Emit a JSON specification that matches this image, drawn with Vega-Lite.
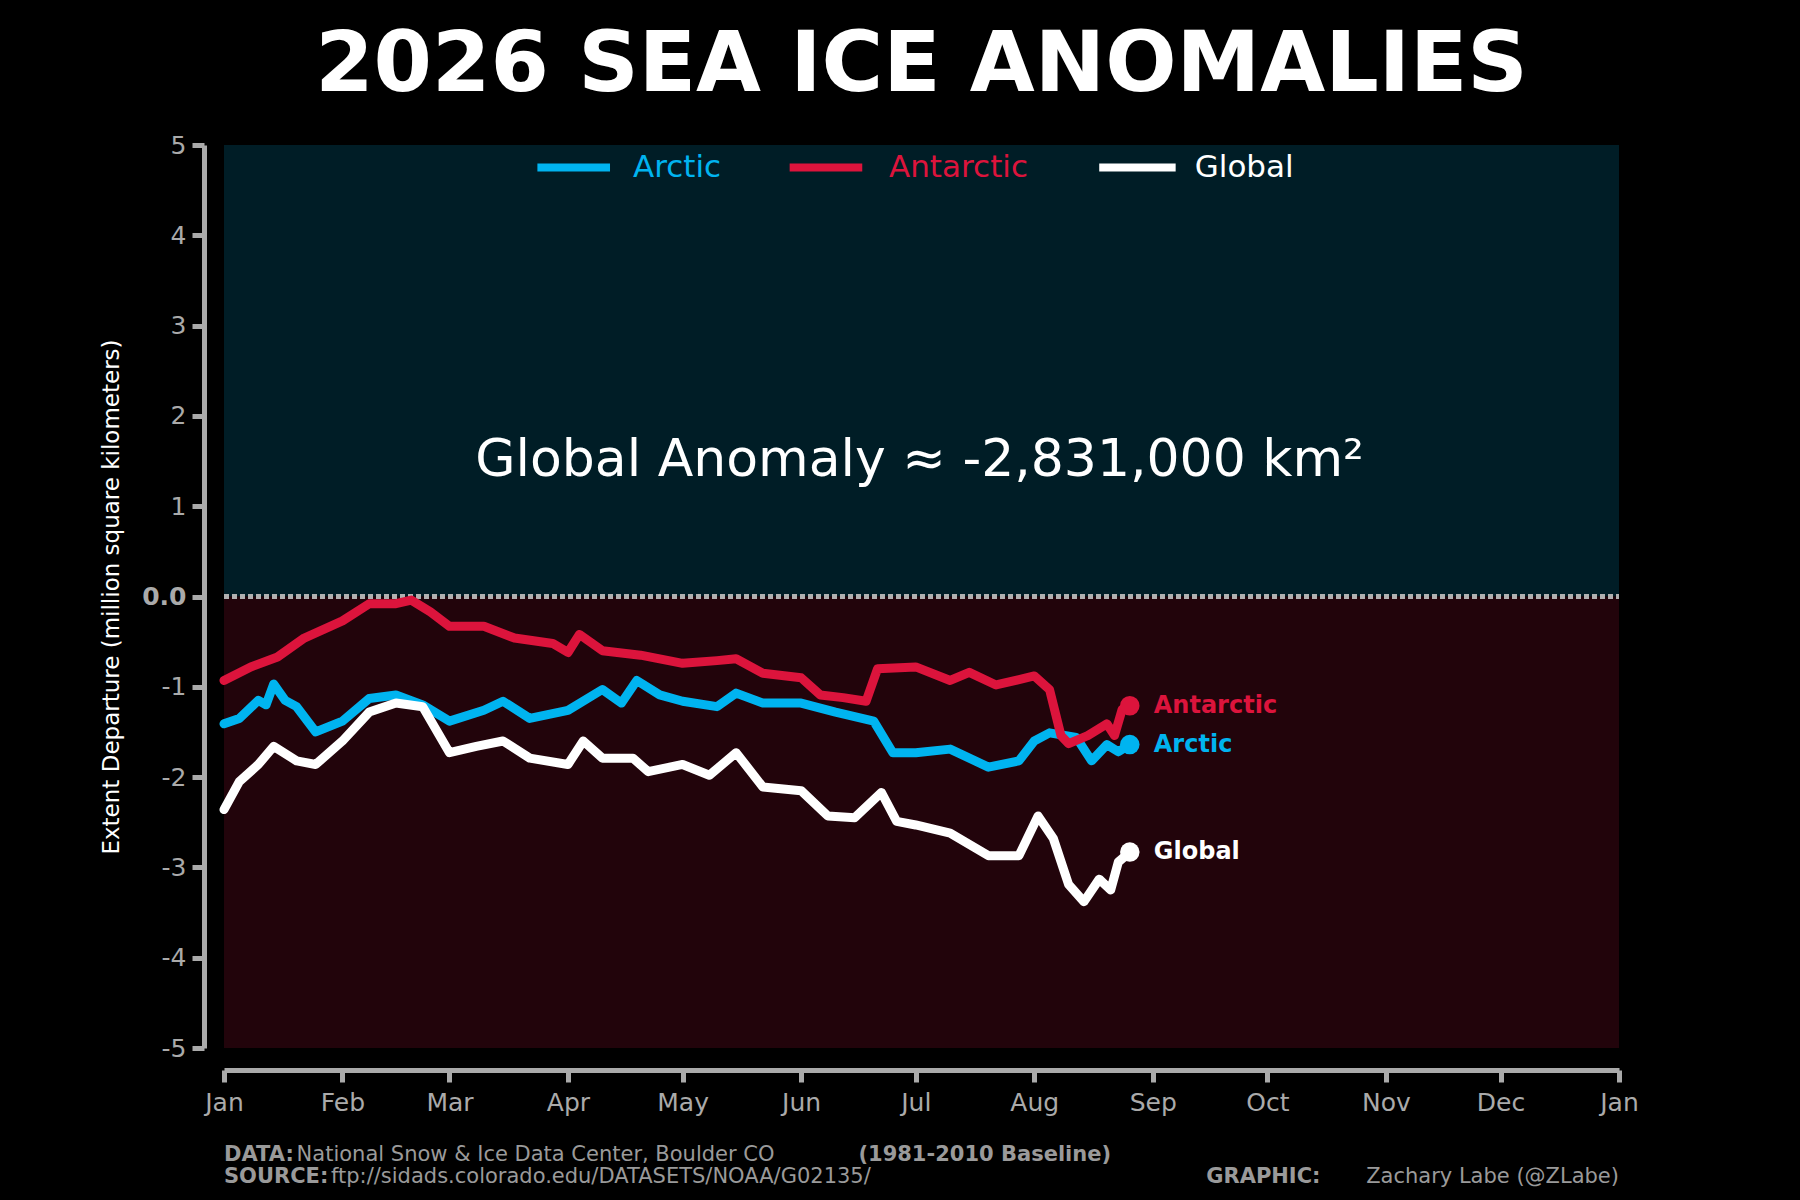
{
  "$schema": "https://vega.github.io/schema/vega-lite/v6.json",
  "background": "#000000",
  "width": 1395,
  "height": 903,
  "autosize": "none",
  "padding": {"left": 224, "top": 145, "right": 181, "bottom": 152},
  "title": {
    "text": "2026 SEA ICE ANOMALIES",
    "color": "white",
    "font": "DejaVu Sans",
    "fontWeight": "bold",
    "fontSize": 84,
    "offset": 24
  },
  "config": {
    "view": {"stroke": null},
    "font": "DejaVu Sans",
    "text": {"font": "DejaVu Sans"}
  },
  "datasets": {
    "bg": [
      {"date": "2026-01-01", "date2": "2027-01-01", "v": 0, "v2": 5, "c": "#001d26"},
      {"date": "2026-01-01", "date2": "2027-01-01", "v": -5, "v2": 0, "c": "#22040b"}
    ],
    "zero": [{"date": "2026-01-01", "date2": "2027-01-01", "v": 0}],
    "series": [
      {"s": "Arctic", "date": "2026-01-01", "v": -1.41},
      {"s": "Arctic", "date": "2026-01-05", "v": -1.35},
      {"s": "Arctic", "date": "2026-01-10", "v": -1.15},
      {"s": "Arctic", "date": "2026-01-12", "v": -1.2},
      {"s": "Arctic", "date": "2026-01-14", "v": -0.97},
      {"s": "Arctic", "date": "2026-01-17", "v": -1.15},
      {"s": "Arctic", "date": "2026-01-20", "v": -1.22},
      {"s": "Arctic", "date": "2026-01-25", "v": -1.5},
      {"s": "Arctic", "date": "2026-02-01", "v": -1.38},
      {"s": "Arctic", "date": "2026-02-08", "v": -1.13},
      {"s": "Arctic", "date": "2026-02-15", "v": -1.09},
      {"s": "Arctic", "date": "2026-02-22", "v": -1.2},
      {"s": "Arctic", "date": "2026-03-01", "v": -1.38},
      {"s": "Arctic", "date": "2026-03-10", "v": -1.26},
      {"s": "Arctic", "date": "2026-03-15", "v": -1.16},
      {"s": "Arctic", "date": "2026-03-22", "v": -1.35},
      {"s": "Arctic", "date": "2026-04-01", "v": -1.26},
      {"s": "Arctic", "date": "2026-04-10", "v": -1.03},
      {"s": "Arctic", "date": "2026-04-15", "v": -1.18},
      {"s": "Arctic", "date": "2026-04-19", "v": -0.93},
      {"s": "Arctic", "date": "2026-04-25", "v": -1.09},
      {"s": "Arctic", "date": "2026-05-01", "v": -1.16},
      {"s": "Arctic", "date": "2026-05-10", "v": -1.22},
      {"s": "Arctic", "date": "2026-05-15", "v": -1.07},
      {"s": "Arctic", "date": "2026-05-22", "v": -1.18},
      {"s": "Arctic", "date": "2026-06-01", "v": -1.18},
      {"s": "Arctic", "date": "2026-06-10", "v": -1.28},
      {"s": "Arctic", "date": "2026-06-20", "v": -1.38},
      {"s": "Arctic", "date": "2026-06-25", "v": -1.73},
      {"s": "Arctic", "date": "2026-07-01", "v": -1.73},
      {"s": "Arctic", "date": "2026-07-10", "v": -1.69},
      {"s": "Arctic", "date": "2026-07-20", "v": -1.89},
      {"s": "Arctic", "date": "2026-07-28", "v": -1.82},
      {"s": "Arctic", "date": "2026-08-01", "v": -1.6},
      {"s": "Arctic", "date": "2026-08-05", "v": -1.51},
      {"s": "Arctic", "date": "2026-08-12", "v": -1.56},
      {"s": "Arctic", "date": "2026-08-16", "v": -1.82},
      {"s": "Arctic", "date": "2026-08-20", "v": -1.64},
      {"s": "Arctic", "date": "2026-08-23", "v": -1.72},
      {"s": "Arctic", "date": "2026-08-26", "v": -1.64},
      {"s": "Antarctic", "date": "2026-01-01", "v": -0.93},
      {"s": "Antarctic", "date": "2026-01-08", "v": -0.78},
      {"s": "Antarctic", "date": "2026-01-15", "v": -0.67},
      {"s": "Antarctic", "date": "2026-01-22", "v": -0.46},
      {"s": "Antarctic", "date": "2026-02-01", "v": -0.27},
      {"s": "Antarctic", "date": "2026-02-08", "v": -0.08},
      {"s": "Antarctic", "date": "2026-02-15", "v": -0.08},
      {"s": "Antarctic", "date": "2026-02-19", "v": -0.04},
      {"s": "Antarctic", "date": "2026-02-24", "v": -0.17},
      {"s": "Antarctic", "date": "2026-03-01", "v": -0.33},
      {"s": "Antarctic", "date": "2026-03-10", "v": -0.33},
      {"s": "Antarctic", "date": "2026-03-18", "v": -0.46},
      {"s": "Antarctic", "date": "2026-03-28", "v": -0.52},
      {"s": "Antarctic", "date": "2026-04-01", "v": -0.62},
      {"s": "Antarctic", "date": "2026-04-04", "v": -0.42},
      {"s": "Antarctic", "date": "2026-04-10", "v": -0.6},
      {"s": "Antarctic", "date": "2026-04-20", "v": -0.65},
      {"s": "Antarctic", "date": "2026-05-01", "v": -0.74},
      {"s": "Antarctic", "date": "2026-05-10", "v": -0.71},
      {"s": "Antarctic", "date": "2026-05-15", "v": -0.69},
      {"s": "Antarctic", "date": "2026-05-22", "v": -0.85},
      {"s": "Antarctic", "date": "2026-06-01", "v": -0.9},
      {"s": "Antarctic", "date": "2026-06-06", "v": -1.09},
      {"s": "Antarctic", "date": "2026-06-12", "v": -1.12},
      {"s": "Antarctic", "date": "2026-06-18", "v": -1.16},
      {"s": "Antarctic", "date": "2026-06-21", "v": -0.8},
      {"s": "Antarctic", "date": "2026-07-01", "v": -0.78},
      {"s": "Antarctic", "date": "2026-07-10", "v": -0.93},
      {"s": "Antarctic", "date": "2026-07-15", "v": -0.84},
      {"s": "Antarctic", "date": "2026-07-22", "v": -0.98},
      {"s": "Antarctic", "date": "2026-08-01", "v": -0.88},
      {"s": "Antarctic", "date": "2026-08-05", "v": -1.03},
      {"s": "Antarctic", "date": "2026-08-08", "v": -1.54},
      {"s": "Antarctic", "date": "2026-08-10", "v": -1.63},
      {"s": "Antarctic", "date": "2026-08-15", "v": -1.54},
      {"s": "Antarctic", "date": "2026-08-20", "v": -1.41},
      {"s": "Antarctic", "date": "2026-08-22", "v": -1.54},
      {"s": "Antarctic", "date": "2026-08-24", "v": -1.25},
      {"s": "Antarctic", "date": "2026-08-26", "v": -1.21},
      {"s": "Global", "date": "2026-01-01", "v": -2.36},
      {"s": "Global", "date": "2026-01-05", "v": -2.05},
      {"s": "Global", "date": "2026-01-10", "v": -1.86},
      {"s": "Global", "date": "2026-01-14", "v": -1.66},
      {"s": "Global", "date": "2026-01-20", "v": -1.82},
      {"s": "Global", "date": "2026-01-25", "v": -1.86},
      {"s": "Global", "date": "2026-02-01", "v": -1.6},
      {"s": "Global", "date": "2026-02-08", "v": -1.28},
      {"s": "Global", "date": "2026-02-15", "v": -1.18},
      {"s": "Global", "date": "2026-02-22", "v": -1.22},
      {"s": "Global", "date": "2026-03-01", "v": -1.73},
      {"s": "Global", "date": "2026-03-08", "v": -1.66},
      {"s": "Global", "date": "2026-03-15", "v": -1.6},
      {"s": "Global", "date": "2026-03-22", "v": -1.79},
      {"s": "Global", "date": "2026-04-01", "v": -1.86},
      {"s": "Global", "date": "2026-04-05", "v": -1.6},
      {"s": "Global", "date": "2026-04-10", "v": -1.79},
      {"s": "Global", "date": "2026-04-18", "v": -1.79},
      {"s": "Global", "date": "2026-04-22", "v": -1.94},
      {"s": "Global", "date": "2026-05-01", "v": -1.86},
      {"s": "Global", "date": "2026-05-08", "v": -1.98},
      {"s": "Global", "date": "2026-05-15", "v": -1.73},
      {"s": "Global", "date": "2026-05-22", "v": -2.11},
      {"s": "Global", "date": "2026-06-01", "v": -2.15},
      {"s": "Global", "date": "2026-06-08", "v": -2.43},
      {"s": "Global", "date": "2026-06-15", "v": -2.45},
      {"s": "Global", "date": "2026-06-22", "v": -2.17},
      {"s": "Global", "date": "2026-06-26", "v": -2.49},
      {"s": "Global", "date": "2026-07-01", "v": -2.53},
      {"s": "Global", "date": "2026-07-10", "v": -2.62},
      {"s": "Global", "date": "2026-07-20", "v": -2.87},
      {"s": "Global", "date": "2026-07-28", "v": -2.87},
      {"s": "Global", "date": "2026-08-02", "v": -2.43},
      {"s": "Global", "date": "2026-08-06", "v": -2.68},
      {"s": "Global", "date": "2026-08-10", "v": -3.19},
      {"s": "Global", "date": "2026-08-14", "v": -3.38},
      {"s": "Global", "date": "2026-08-18", "v": -3.13},
      {"s": "Global", "date": "2026-08-21", "v": -3.25},
      {"s": "Global", "date": "2026-08-23", "v": -2.94},
      {"s": "Global", "date": "2026-08-26", "v": -2.83}
    ],
    "ends": [
      {"s": "Arctic", "date": "2026-08-26", "v": -1.64},
      {"s": "Antarctic", "date": "2026-08-26", "v": -1.21},
      {"s": "Global", "date": "2026-08-26", "v": -2.83}
    ],
    "legend": [
      {"s": "Arctic", "date": "2026-03-24", "date2": "2026-04-12", "tdate": "2026-04-18", "v": 4.75},
      {"s": "Antarctic", "date": "2026-05-29", "date2": "2026-06-17", "tdate": "2026-06-24", "v": 4.75},
      {"s": "Global", "date": "2026-08-18", "date2": "2026-09-07", "tdate": "2026-09-12", "v": 4.75}
    ],
    "anno": [{"date": "2026-07-02", "v": 1.51, "t": "Global Anomaly ≈ -2,831,000 km²"}],
    "footbold": [
      {"date": "2026-01-01", "v": -6.18, "t": "DATA:"},
      {"date": "2026-01-01", "v": -6.43, "t": "SOURCE:"}
    ],
    "footnorm": [
      {"date": "2026-01-20", "v": -6.18, "t": "National Snow & Ice Data Center, Boulder CO"},
      {"date": "2026-01-29", "v": -6.43, "t": "ftp://sidads.colorado.edu/DATASETS/NOAA/G02135/"}
    ],
    "footbold2": [
      {"date": "2026-06-16", "v": -6.18, "t": "(1981-2010 Baseline)"},
      {"date": "2026-09-15", "v": -6.43, "t": "GRAPHIC:"}
    ],
    "footright": [
      {"date": "2027-01-01", "v": -6.43, "t": "Zachary Labe (@ZLabe)"}
    ]
  },
  "encoding": {
    "x": {
      "field": "date",
      "type": "temporal",
      "scale": {"type": "utc", "domain": ["2026-01-01", "2027-01-01"]},
      "axis": {
        "title": null,
        "labelExpr": "utcFormat(datum.value, '%b')",
        "values": ["2026-01-01", "2026-02-01", "2026-03-01", "2026-04-01", "2026-05-01", "2026-06-01", "2026-07-01", "2026-08-01", "2026-09-01", "2026-10-01", "2026-11-01", "2026-12-01", "2027-01-01"],
        "offset": 22,
        "grid": false,
        "domainColor": "#aaaaaa",
        "domainWidth": 5,
        "tickColor": "#aaaaaa",
        "tickWidth": 5,
        "tickSize": 12,
        "labelColor": "#aaaaaa",
        "labelFontSize": 25,
        "labelPadding": 8,
        "labelFlush": false
      }
    },
    "y": {
      "field": "v",
      "type": "quantitative",
      "scale": {"domain": [-5, 5], "nice": false},
      "axis": {
        "title": "Extent Departure (million square kilometers)",
        "titleColor": "white",
        "titleFontSize": 23,
        "titleFontWeight": "normal",
        "titlePadding": 18,
        "values": [-5, -4, -3, -2, -1, 0, 1, 2, 3, 4, 5],
        "labelExpr": "datum.value == 0 ? '0.0' : '' + datum.value",
        "labelFontWeight": {"condition": {"test": "datum.value == 0", "value": "bold"}, "value": "normal"},
        "offset": 20,
        "grid": false,
        "domainColor": "#aaaaaa",
        "domainWidth": 5,
        "tickColor": "#aaaaaa",
        "tickWidth": 5,
        "tickSize": 12,
        "labelColor": "#aaaaaa",
        "labelFontSize": 25,
        "labelPadding": 6
      }
    }
  },
  "layer": [
    {
      "data": {"name": "bg"},
      "mark": {"type": "rect"},
      "encoding": {
        "x2": {"field": "date2"},
        "y2": {"field": "v2"},
        "color": {"field": "c", "type": "nominal", "scale": null}
      }
    },
    {
      "data": {"name": "zero"},
      "mark": {"type": "rule", "color": "#b0b0b0", "strokeWidth": 5, "strokeDash": [5, 3]},
      "encoding": {"x2": {"field": "date2"}}
    },
    {
      "data": {"name": "series"},
      "mark": {"type": "line", "strokeWidth": 9, "strokeJoin": "round", "strokeCap": "round", "clip": false},
      "encoding": {
        "color": {"field": "s", "type": "nominal", "scale": {"domain": ["Antarctic", "Arctic", "Global"], "range": ["#dc143c", "#00b4f0", "#ffffff"]}, "legend": null},
        "order": {"field": "date", "type": "temporal"}
      }
    },
    {
      "data": {"name": "ends"},
      "mark": {"type": "circle", "size": 380, "opacity": 1},
      "encoding": {"color": {"field": "s", "type": "nominal", "legend": null}}
    },
    {
      "data": {"name": "ends"},
      "mark": {"type": "text", "align": "left", "dx": 24, "fontSize": 24, "fontWeight": "bold"},
      "encoding": {"text": {"field": "s"}, "color": {"field": "s", "type": "nominal", "legend": null}}
    },
    {
      "data": {"name": "legend"},
      "mark": {"type": "rule", "strokeWidth": 8},
      "encoding": {"x2": {"field": "date2"}, "color": {"field": "s", "type": "nominal", "legend": null}}
    },
    {
      "data": {"name": "legend"},
      "mark": {"type": "text", "align": "left", "fontSize": 31},
      "encoding": {"x": {"field": "tdate", "type": "temporal"}, "text": {"field": "s"}, "color": {"field": "s", "type": "nominal", "legend": null}}
    },
    {
      "data": {"name": "anno"},
      "mark": {"type": "text", "align": "center", "fontSize": 52, "color": "white"},
      "encoding": {"text": {"field": "t"}}
    },
    {
      "data": {"name": "footbold"},
      "mark": {"type": "text", "align": "left", "fontSize": 21, "fontWeight": "bold", "color": "#9a9a9a"},
      "encoding": {"text": {"field": "t"}}
    },
    {
      "data": {"name": "footnorm"},
      "mark": {"type": "text", "align": "left", "fontSize": 21, "color": "#9a9a9a"},
      "encoding": {"text": {"field": "t"}}
    },
    {
      "data": {"name": "footbold2"},
      "mark": {"type": "text", "align": "left", "fontSize": 21, "fontWeight": "bold", "color": "#9a9a9a"},
      "encoding": {"text": {"field": "t"}}
    },
    {
      "data": {"name": "footright"},
      "mark": {"type": "text", "align": "right", "fontSize": 21, "color": "#9a9a9a"},
      "encoding": {"text": {"field": "t"}}
    }
  ]
}
